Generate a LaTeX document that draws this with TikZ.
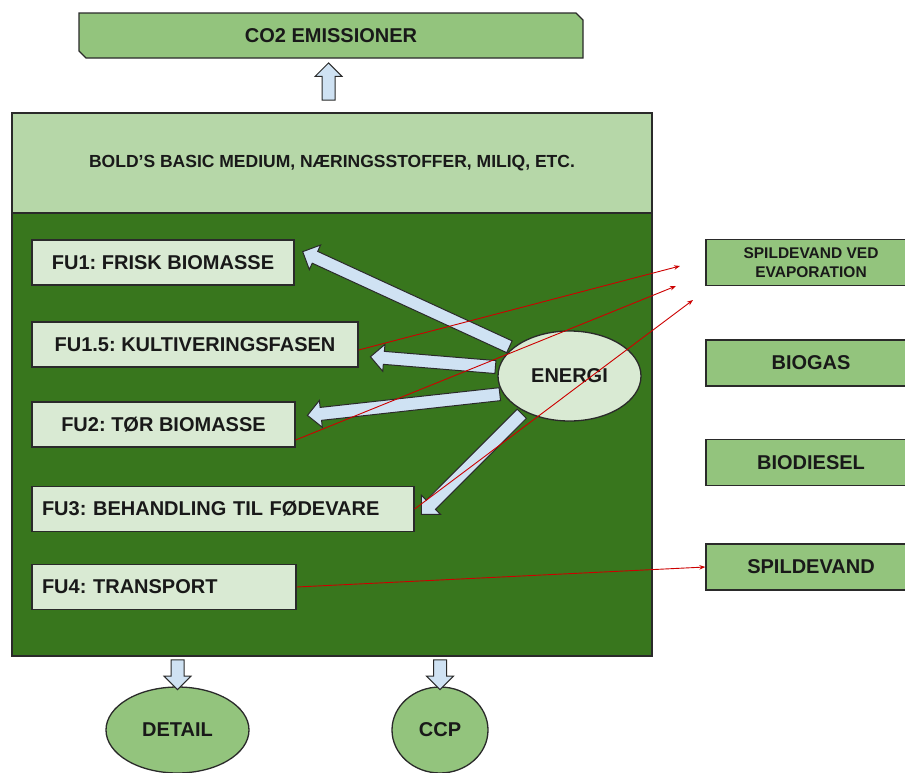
\documentclass[tikz,border=0pt]{standalone}
\usepackage{fontspec}
\setmainfont{Liberation Sans}
\frenchspacing
\usetikzlibrary{shapes.geometric,shapes.arrows,calc,arrows.meta}
\definecolor{leaf}{HTML}{93C47D}
\definecolor{pale}{HTML}{B6D7A8}
\definecolor{forest}{HTML}{38761D}
\definecolor{mint}{HTML}{D9EAD3}
\definecolor{sky}{HTML}{CFE2F3}
\definecolor{edge}{HTML}{2A2A2A}
\definecolor{flow}{HTML}{CC0000}
\tikzset{
    big-font/.style = {font=\fontsize{20}{24}\selectfont\bfseries, text=black!90},
    fu-box/.style = {big-font, draw=edge, fill=mint, line width=1.3pt, rectangle, minimum height=45pt, inner sep=0pt},
    out-box/.style = {big-font, draw=edge, fill=leaf, line width=1.3pt, rectangle, minimum width=210pt, minimum height=46pt, inner sep=0pt, align=center},
    blob/.style = {big-font, draw=edge, ellipse, line width=1.3pt, inner sep=0pt},
    fat-arrow/.style = {single arrow, draw=edge, fill=sky, line width=1pt, inner sep=0pt, inner ysep=6pt, text height=0pt, text depth=0pt, single arrow head extend=7pt, single arrow head indent=0pt},
    red-line/.style = {draw=flow, line width=0.9pt, -{Stealth[length=6pt, width=4.5pt]}},
}
\newcommand{\fatarrow}[2]{%
  \path let \p1=($(#2)-(#1)$), \n1={atan2(\y1,\x1)}, \n2={veclen(\x1,\y1)} in
    node[fat-arrow, minimum height=\n2, rotate=\n1] at ($(#1)!0.5!(#2)$) {};}

\begin{document}
\begin{tikzpicture}[x=1pt, y=-1pt]
\useasboundingbox (0,0) rectangle (905,772);

% the cultivation box
\node[draw=edge, fill=forest, line width=1.3pt, minimum width=640pt, minimum height=543pt] (base) at (332,384.5) {};
\node[draw=edge, fill=pale, line width=1.3pt, minimum width=640pt, minimum height=100pt, anchor=north,
      font=\fontsize{17.5}{21}\selectfont\bfseries, text=black!90] (medium) at (base.north) {BOLD’S BASIC MEDIUM, NÆRINGSSTOFFER, MILIQ, ETC.};

\node[fu-box, minimum width=262pt] (fu1) at (163,262.5) {FU1: FRISK BIOMASSE};
\node[fu-box, minimum width=326pt] (fu15) at (195,344.5) {FU1.5: KULTIVERINGSFASEN};
\node[fu-box, minimum width=263pt] (fu2) at (163.5,424.5) {FU2: TØR BIOMASSE};
\node[fu-box, text width=362pt, align=left, inner xsep=10pt] (fu3) at (223,509) {FU3: BEHANDLING TIL FØDEVARE};
\node[fu-box, text width=244pt, align=left, inner xsep=10pt] (fu4) at (164,587) {FU4: TRANSPORT};

\node[blob, fill=mint, minimum width=143pt, minimum height=90pt] (energi) at (569.5,376) {ENERGI};

% emissions on top
\draw[draw=edge, fill=leaf, line width=1.3pt] (79,13) -- (576,13) -- (583,20) -- (583,58) -- (86,58) -- (79,51) -- cycle;
\node[big-font, minimum width=504pt, minimum height=45pt, inner sep=0pt] (co2) at (331,35.5) {CO2 EMISSIONER};

% outputs
\node[out-box, font=\fontsize{15.5}{19.5}\selectfont\bfseries] (evap) at (811,262.5) {SPILDEVAND VED\\EVAPORATION};
\node[out-box] (biogas) at (811,363) {BIOGAS};
\node[out-box] (biodiesel) at (811,462.5) {BIODIESEL};
\node[out-box] (spild) at (811,567) {SPILDEVAND};

% end products
\node[blob, fill=leaf, minimum width=143pt, minimum height=86pt] (detail) at (177.5,730) {DETAIL};
\node[blob, fill=leaf, minimum width=96pt, minimum height=86pt] (ccp) at (440,730) {CCP};

% hollow arrows
\coordinate (up-tail) at ($(medium.north)+(-3.5,-9)$);
\coordinate (up-tip) at ($(co2.south)+(-2.5,8)$);
\fatarrow{up-tail}{up-tip}
\coordinate (t1) at ($(fu1.east)+(11,-9.5)$);
\coordinate (t2) at ($(fu15.east)+(15,12.5)$);
\coordinate (t3) at ($(fu2.east)+(15,-9.5)$);
\coordinate (t4) at ($(fu3.east)+(9,3)$);
\fatarrow{energi.154}{t1}
\fatarrow{energi.173}{t2}
\fatarrow{energi.195}{t3}
\fatarrow{energi.218}{t4}
\coordinate (d-top) at (base.south -| detail.north);
\coordinate (c-top) at (base.south -| ccp.north);
\fatarrow{d-top}{detail.north}
\fatarrow{c-top}{ccp.north}

% waste water flows
\coordinate (e1) at (680,266);
\coordinate (e2) at (676,286);
\coordinate (e3) at (693,300);
\draw[red-line] ([yshift=-5.5pt]fu15.east) -- (e1);
\draw[red-line] ([yshift=-15.5pt]fu2.east) -- (e2);
\draw[red-line] (fu3.east) -- (e3);
\draw[red-line] (fu4.east) -- (spild.west);
\end{tikzpicture}
\end{document}
